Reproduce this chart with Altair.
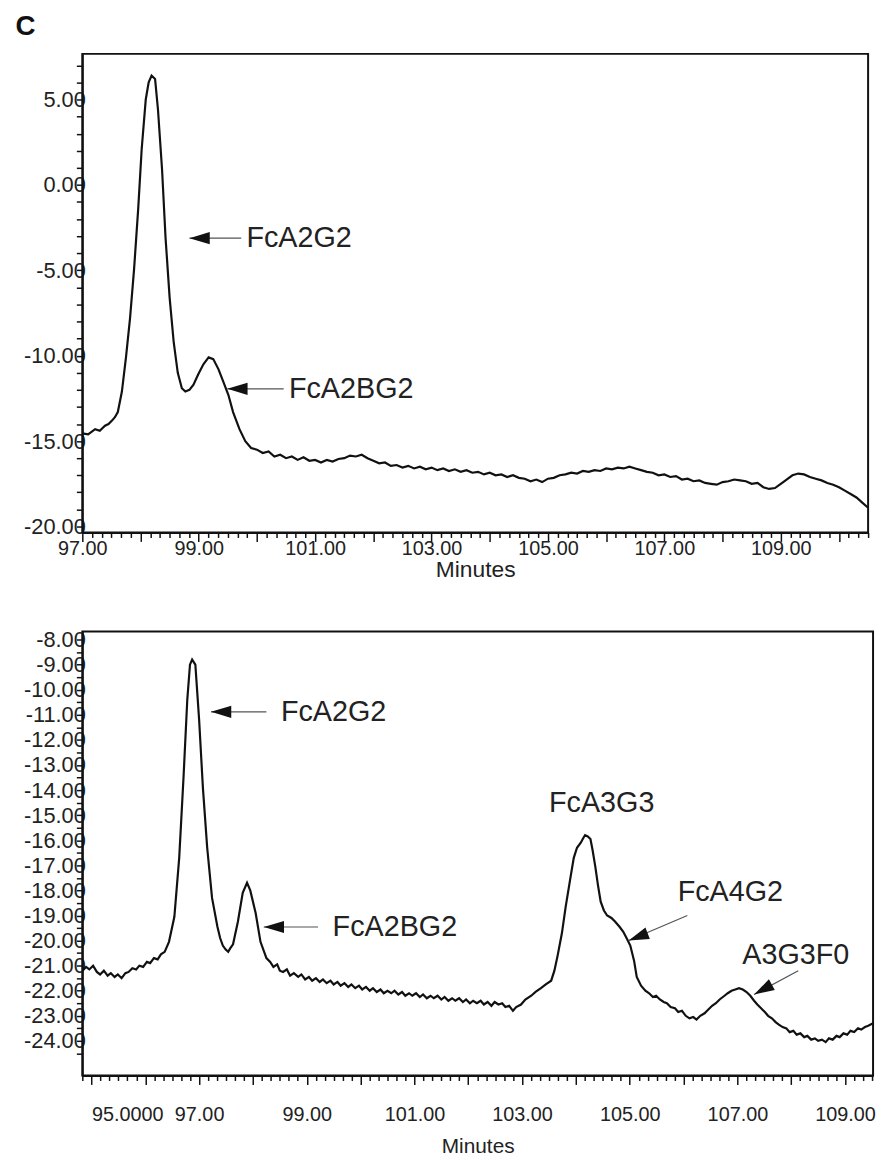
import altair as alt
import pandas as pd

# ---------------- top panel trace (minutes, signal) ----------------
top_min = [97.00, 97.10, 97.22, 97.30, 97.39, 97.45, 97.51, 97.56, 97.61, 97.68,
           97.75, 97.82, 97.89, 97.96, 98.02, 98.09, 98.14, 98.19, 98.25, 98.30,
           98.37, 98.43, 98.50, 98.57, 98.64, 98.71, 98.77, 98.84, 98.91, 98.99,
           99.08, 99.17, 99.25, 99.34, 99.42, 99.51, 99.59, 99.70, 99.80, 99.90,
           100.0, 100.1, 100.2, 100.3, 100.4, 100.5, 100.6, 100.7, 100.8, 100.9,
           101.0, 101.1, 101.2, 101.3, 101.4, 101.5, 101.6, 101.7, 101.8, 101.9,
           102.0, 102.1, 102.2, 102.3, 102.4, 102.5, 102.6, 102.7, 102.8, 102.9,
           103.0, 103.1, 103.2, 103.3, 103.4, 103.5, 103.6, 103.7, 103.8, 103.9,
           104.0, 104.1, 104.2, 104.3, 104.4, 104.5, 104.6, 104.7, 104.8, 104.9,
           105.0, 105.1, 105.2, 105.3, 105.4, 105.5, 105.6, 105.7, 105.8, 105.9,
           106.0, 106.1, 106.2, 106.3, 106.4, 106.5, 106.6, 106.7, 106.8, 106.9,
           107.0, 107.1, 107.2, 107.3, 107.4, 107.5, 107.6, 107.7, 107.8, 107.9,
           108.0, 108.1, 108.2, 108.3, 108.4, 108.5, 108.6, 108.7, 108.8, 108.9,
           109.0, 109.1, 109.2, 109.3, 109.4, 109.5, 109.6, 109.7, 109.8, 109.9,
           110.0, 110.1, 110.2, 110.3, 110.4, 110.5]
top_sig = [-14.55, -14.6, -14.3, -14.4, -14.1, -14.0, -13.8, -13.6, -13.3, -12.1,
           -10.1, -7.8, -4.9, -1.4, 2.1, 5.0, 6.0, 6.4, 6.2, 4.4,
           0.9, -3.1, -6.6, -9.2, -11.0, -11.9, -12.1, -12.0, -11.7, -11.1,
           -10.5, -10.1, -10.2, -10.8, -11.5, -12.3, -13.3, -14.3, -15.0, -15.4,
           -15.5, -15.7, -15.6, -15.9, -15.8, -16.0, -15.9, -16.1, -15.95, -16.15,
           -16.1, -16.25, -16.1, -16.2, -16.05, -16.0, -15.85, -15.9, -15.8, -16.0,
           -16.15, -16.3, -16.25, -16.45, -16.4, -16.55, -16.45, -16.6, -16.5, -16.65,
           -16.55, -16.7, -16.6, -16.75, -16.65, -16.8, -16.7, -16.85, -16.8, -16.95,
           -16.85, -17.0, -16.95, -17.1, -17.0, -17.15, -17.2, -17.35, -17.25, -17.4,
           -17.2, -17.15, -17.0, -16.95, -16.85, -16.9, -16.75, -16.8, -16.7, -16.75,
           -16.6, -16.65, -16.55, -16.6, -16.5, -16.6, -16.7, -16.8, -16.85, -17.0,
           -16.95, -17.1, -17.05, -17.25, -17.2, -17.35, -17.3, -17.45, -17.5, -17.55,
           -17.4, -17.35, -17.25, -17.3, -17.35, -17.5, -17.45, -17.7, -17.8, -17.75,
           -17.5, -17.25, -17.0, -16.9, -16.95, -17.1, -17.2, -17.3, -17.45, -17.55,
           -17.7, -17.9, -18.1, -18.3, -18.6, -18.9]

# ---------------- bottom panel trace ----------------
bot_min = [94.83, 94.90, 94.96, 95.03, 95.10, 95.16, 95.23, 95.30, 95.36, 95.43,
           95.49, 95.56, 95.63, 95.69, 95.76, 95.83, 95.89, 95.96, 96.03, 96.09,
           96.16, 96.23, 96.29, 96.36, 96.44, 96.54, 96.63, 96.71, 96.78, 96.83,
           96.87, 96.93, 97.00, 97.07, 97.15, 97.24, 97.34, 97.39, 97.44, 97.49,
           97.54, 97.58, 97.63, 97.72, 97.81, 97.89, 97.95, 98.05, 98.14, 98.25,
           98.32, 98.38, 98.45, 98.50, 98.56, 98.63, 98.69, 98.76, 98.84, 98.90,
           98.97, 99.04, 99.10, 99.17, 99.24, 99.30, 99.37, 99.44, 99.50, 99.57,
           99.63, 99.70, 99.77, 99.83, 99.90, 99.97, 100.03, 100.10, 100.17, 100.23,
           100.30, 100.37, 100.43, 100.50, 100.57, 100.63, 100.70, 100.77, 100.83, 100.90,
           100.96, 101.03, 101.10, 101.16, 101.23, 101.30, 101.36, 101.43, 101.50, 101.56,
           101.63, 101.70, 101.76, 101.83, 101.90, 101.96, 102.03, 102.09, 102.16, 102.23,
           102.29, 102.36, 102.43, 102.49, 102.56, 102.63, 102.69, 102.76, 102.83, 102.89,
           102.98, 103.06, 103.17, 103.25, 103.35, 103.44, 103.54, 103.60, 103.66, 103.74,
           103.81, 103.89, 103.96, 104.02, 104.09, 104.14, 104.17, 104.22, 104.27, 104.31,
           104.36, 104.41, 104.46, 104.52, 104.58, 104.66, 104.73, 104.81, 104.88, 104.94,
           105.01, 105.08, 105.13, 105.21, 105.29, 105.36, 105.43, 105.49, 105.56, 105.63,
           105.69, 105.76, 105.84, 105.90, 105.97, 106.04, 106.11, 106.18, 106.24, 106.31,
           106.39, 106.46, 106.53, 106.60, 106.67, 106.76, 106.82, 106.89, 106.96, 107.03,
           107.10, 107.17, 107.24, 107.31, 107.37, 107.44, 107.51, 107.57, 107.64, 107.71,
           107.77, 107.84, 107.91, 107.97, 108.04, 108.10, 108.17, 108.24, 108.30, 108.37,
           108.44, 108.50, 108.57, 108.64, 108.70, 108.77, 108.84, 108.90, 108.97, 109.04,
           109.10, 109.17, 109.24, 109.30, 109.37, 109.43, 109.52]
bot_sig = [-21.2, -21.05, -21.15, -21.0, -21.25, -21.35, -21.2, -21.4, -21.3, -21.45,
           -21.35, -21.5, -21.3, -21.25, -21.1, -21.15, -21.0, -21.05, -20.85, -20.9,
           -20.7, -20.75, -20.55, -20.45, -20.05, -19.05, -16.7, -13.5, -10.4, -9.0,
           -8.8, -9.0, -11.2, -13.9, -16.3, -18.3, -19.45, -19.9, -20.2, -20.35,
           -20.45, -20.3, -20.15, -19.25, -18.1, -17.7, -18.0, -18.9, -20.05, -20.7,
           -20.85, -21.05, -20.95, -21.2, -21.25, -21.15, -21.4, -21.3, -21.45, -21.35,
           -21.55, -21.45, -21.6, -21.5, -21.65, -21.55, -21.7, -21.6, -21.75, -21.65,
           -21.8, -21.7, -21.85, -21.75, -21.9, -21.8, -21.95, -21.85, -22.0, -21.9,
           -22.05, -21.95, -22.1, -22.0, -22.1, -22.0, -22.15, -22.05, -22.2, -22.1,
           -22.2, -22.1, -22.25, -22.15, -22.3, -22.2, -22.3, -22.2, -22.35, -22.25,
           -22.4, -22.3, -22.4, -22.3, -22.45, -22.35, -22.5, -22.4, -22.5, -22.4,
           -22.55, -22.45, -22.6, -22.45, -22.55, -22.5, -22.65, -22.6, -22.8, -22.65,
           -22.55, -22.35, -22.2, -22.05, -21.9, -21.75, -21.6, -21.2, -20.6, -19.7,
           -18.65, -17.6, -16.7, -16.3, -16.1, -15.9, -15.8, -15.85, -15.95, -16.4,
           -17.05, -17.8, -18.45, -18.8, -19.0, -19.1, -19.25, -19.45, -19.65, -19.9,
           -20.2, -20.8, -21.45, -21.8, -22.0, -22.1, -22.25, -22.2, -22.35, -22.45,
           -22.5, -22.65, -22.7, -22.85, -22.8, -23.0, -23.1, -23.05, -23.15, -23.0,
           -22.9, -22.75, -22.6, -22.5, -22.35, -22.2, -22.1, -22.0, -21.95, -21.9,
           -21.95, -22.05, -22.2, -22.4, -22.55, -22.7, -22.85, -23.0, -23.1, -23.25,
           -23.35, -23.45, -23.5, -23.65, -23.6, -23.75, -23.7, -23.85, -23.8, -23.95,
           -23.9, -24.0, -23.95, -24.05, -23.9, -23.95, -23.8, -23.85, -23.7, -23.75,
           -23.6, -23.65, -23.5, -23.55, -23.45, -23.4, -23.3]

# ---------------- annotations ----------------
top_labels = ["FcA2G2", "FcA2BG2"]
top_label_x = [99.82, 100.55]
top_label_y = [-3.12, -11.94]
top_tip_x = [98.84, 99.49]
top_tip_y = [-3.12, -11.94]
top_tail_x = [99.73, 100.46]
top_tail_y = [-3.12, -11.94]
top_head_angle = [0, 0]

bot_labels = ["FcA2G2", "FcA2BG2", "FcA3G3", "FcA4G2", "A3G3F0"]
bot_label_x = [98.52, 99.48, 103.50, 105.89, 107.09]
bot_label_y = [-10.88, -19.46, -14.52, -18.07, -20.56]
bot_arrows = ["FcA2G2", "FcA2BG2", "FcA4G2", "A3G3F0"]
bot_tip_x = [97.22, 98.20, 104.98, 107.31]
bot_tip_y = [-10.88, -19.46, -20.0, -22.15]
bot_tail_x = [98.25, 99.21, 106.07, 108.13]
bot_tail_y = [-10.88, -19.46, -19.0, -21.2]
bot_head_angle = [0, 0, 339, 331]

TOP_X = [97.0, 110.5]
TOP_Y = [-20.35, 7.67]
BOT_X = [94.83, 109.52]
BOT_Y = [-25.38, -7.68]

FONT = "Liberation Sans"
INT_TEST = "abs(datum.value - round(datum.value)) < 0.01"


def ticks(lo, hi, step_div):
    out = []
    k = int(lo * step_div) - 1
    while k / step_div <= hi + 1e-9:
        v = round(k / step_div, 4)
        if lo - 1e-9 <= v <= hi + 1e-9:
            out.append(v)
        k += 1
    return out


def x_axis(lo, hi, label_pad, title_pad, title_size, special95=False):
    lab = ("round(datum.value) == 95 && " + INT_TEST + " ? '95.0000' : " if special95 else "") + \
          "(" + INT_TEST + " && round(datum.value) % 2 == 1) ? format(datum.value, '.2f') : ''"
    kw = {}
    if special95:
        kw["labelAlign"] = {"condition": {"test": "datum.value < 95.5", "value": "left"},
                            "value": "center"}
    return alt.Axis(values=ticks(lo, hi, 6), labelExpr=lab, labelOverlap=False,
                    labelFlush=False, title="Minutes", grid=False, labelFontSize=20,
                    labelPadding=label_pad, titlePadding=title_pad, titleFontSize=title_size,
                    tickSize={"condition": {"test": INT_TEST, "value": 9}, "value": 5}, **kw)


def y_axis(lo, hi, div, every):
    lab = "(" + INT_TEST + " && round(datum.value) % " + str(every) + " == 0) ? " \
          "((datum.value < 0 ? '-' : '') + format(abs(datum.value), '.2f')) : ''"
    return alt.Axis(values=ticks(lo, hi, div), labelExpr=lab, labelOverlap=False,
                    labelFlush=False, title=None, grid=False, labelPadding=-9,
                    labelFontSize=22, tickSize=6)


def panel(mins, sig, xdom, ydom, xax, yax, labels, lx, ly, arrows, tx, ty, ax, ay, ang, w, h):
    trace = pd.DataFrame({"t": mins, "s": sig})
    X = alt.X("t:Q", scale=alt.Scale(domain=xdom, nice=False, zero=False), axis=xax)
    Y = alt.Y("s:Q", scale=alt.Scale(domain=ydom, nice=False, zero=False), axis=yax)
    line = alt.Chart(trace).mark_line(color="#111", strokeWidth=2.2, clip=True).encode(x=X, y=Y)

    txt = pd.DataFrame({"t": lx, "s": ly, "label": labels})
    texts = alt.Chart(txt).mark_text(align="left", baseline="middle", font=FONT,
                                     fontSize=29, color="#222").encode(x=X, y=Y, text="label:N")

    arr = pd.DataFrame({"t": tx, "s": ty, "t2": ax, "s2": ay, "ang": ang, "name": arrows})
    rules = alt.Chart(arr).mark_rule(color="#555", strokeWidth=1.2).encode(
        x=X, y=Y, x2="t2:Q", y2="s2:Q")
    heads = alt.Chart(arr).mark_point(shape="M 0 0 L 2 -0.6 L 2 0.6 Z", filled=True,
                                      color="#111", size=420, opacity=1).encode(
        x=X, y=Y, angle=alt.Angle("ang:Q", scale=None))
    return alt.layer(line, rules, heads, texts).properties(width=w, height=h)


top = panel(top_min, top_sig, TOP_X, TOP_Y,
            x_axis(*TOP_X, label_pad=-3, title_pad=0, title_size=23),
            y_axis(TOP_Y[0], TOP_Y[1], 1, 5),
            top_labels, top_label_x, top_label_y, top_labels, top_tip_x, top_tip_y,
            top_tail_x, top_tail_y, top_head_angle, 793, 483)
bottom = panel(bot_min, bot_sig, BOT_X, BOT_Y,
               x_axis(*BOT_X, label_pad=20, title_pad=12, title_size=21, special95=True),
               y_axis(-24.5, BOT_Y[1], 2, 1),
               bot_labels, bot_label_x, bot_label_y, bot_arrows, bot_tip_x, bot_tip_y,
               bot_tail_x, bot_tail_y, bot_head_angle, 798, 448)

chart = alt.vconcat(top, bottom, spacing=46).properties(
    title=alt.TitleParams("C", anchor="start", font=FONT, fontSize=28, fontWeight="bold",
                          color="#111", offset=12, dx=-7),
    padding={"left": 7, "top": 0, "right": 2, "bottom": 0},
).configure_view(stroke="#111", strokeWidth=2).configure_axis(
    domainColor="#111", domainWidth=2, tickColor="#111", tickWidth=1.5,
    labelFont=FONT, labelColor="#222",
    titleFont=FONT, titleFontWeight="normal", titleColor="#222",
)

chart.save("out.html", embed_options={"renderer": "svg", "actions": False})
